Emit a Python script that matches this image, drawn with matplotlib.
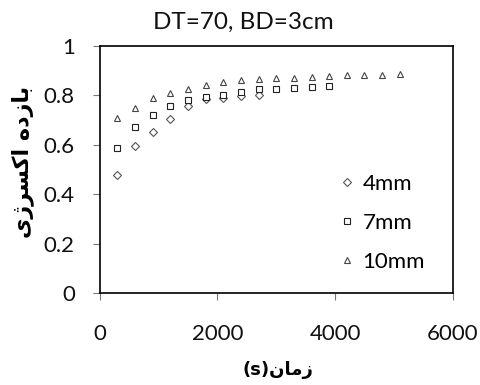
import matplotlib
matplotlib.use('Agg')
import matplotlib.pyplot as plt
from matplotlib.ticker import FormatStrFormatter

plt.rcParams['font.family'] = ['Lato', 'DejaVu Sans']

# data
time_4 = [300, 600, 900, 1200, 1500, 1800, 2100, 2400, 2700]
eff_4 = [0.478, 0.594, 0.651, 0.702, 0.755, 0.783, 0.790, 0.795, 0.802]

time_7 = [300, 600, 900, 1200, 1500, 1800, 2100, 2400, 2700, 3000, 3300, 3600, 3900]
eff_7 = [0.586, 0.670, 0.721, 0.757, 0.779, 0.792, 0.803, 0.814, 0.826,
         0.826, 0.828, 0.832, 0.836]

time_10 = [300, 600, 900, 1200, 1500, 1800, 2100, 2400, 2700, 3000, 3300,
           3600, 3900, 4200, 4500, 4800, 5100]
eff_10 = [0.706, 0.747, 0.787, 0.811, 0.825, 0.842, 0.853, 0.860, 0.864,
          0.869, 0.871, 0.872, 0.877, 0.880, 0.881, 0.883, 0.885]

labels = ['4mm', '7mm', '10mm']
title = 'DT=70, BD=3cm'
# Persian labels written in shaped (presentation) forms, visual order
xlabel = '(s)\uFEE5\uFE8E\uFEE3\uFEAF'                      # زمان(s)
ylabel = '\uFBFC\uFB8A\uFEAE\uFEB4\uFB90\uFE8D \uFEE9\uFEA9\uFEAF\uFE8E\uFE91'  # بازده اکسرژی

fig = plt.figure(figsize=(4.8, 3.85), dpi=100)
ax = fig.add_axes([0.208, 0.239, 0.735, 0.642])

ax.plot(time_4, eff_4, linestyle='none', marker='D', markersize=3.6,
        markerfacecolor='white', markeredgecolor='#555555', markeredgewidth=0.8, label=labels[0])
ax.plot(time_7, eff_7, linestyle='none', marker='s', markersize=5,
        markerfacecolor='white', markeredgecolor='#222222', markeredgewidth=0.8, label=labels[1])
ax.plot(time_10, eff_10, linestyle='none', marker='^', markersize=5,
        markerfacecolor='white', markeredgecolor='#444444', markeredgewidth=0.8, label=labels[2])

ax.set_xlim(0, 6000)
ax.set_ylim(0, 1)
ax.set_xticks([0, 2000, 4000, 6000])
ax.set_yticks([0, 0.2, 0.4, 0.6, 0.8, 1.0])
ax.yaxis.set_major_formatter(FormatStrFormatter('%g'))
ax.tick_params(direction='out', length=5, width=0.8, color='#777777', labelsize=16,
               labelcolor='#111111')
ax.tick_params(axis='x', pad=17)
ax.tick_params(axis='y', pad=13)
for s in ax.spines.values():
    s.set_linewidth(1.2)
    s.set_color('black')

fig.text(0.507, 0.942, title, ha='center', va='center', fontsize=17.5, color='#111111')
fig.text(0.58, 0.04, xlabel, ha='center', va='center', fontsize=13,
         fontweight='bold', family=['DejaVu Sans'])
fig.text(0.048, 0.58, ylabel, ha='center', va='center', rotation=90, fontsize=16,
         fontweight='bold', family=['DejaVu Sans'])

ax.legend(loc='upper left', bbox_to_anchor=(0.709, 0.548), bbox_transform=fig.transFigure,
          frameon=False, fontsize=16, handlelength=0.6, handletextpad=0.4,
          labelspacing=0.86, borderaxespad=0, borderpad=0, markerscale=1.0)

fig.savefig('out.png', dpi=100)
